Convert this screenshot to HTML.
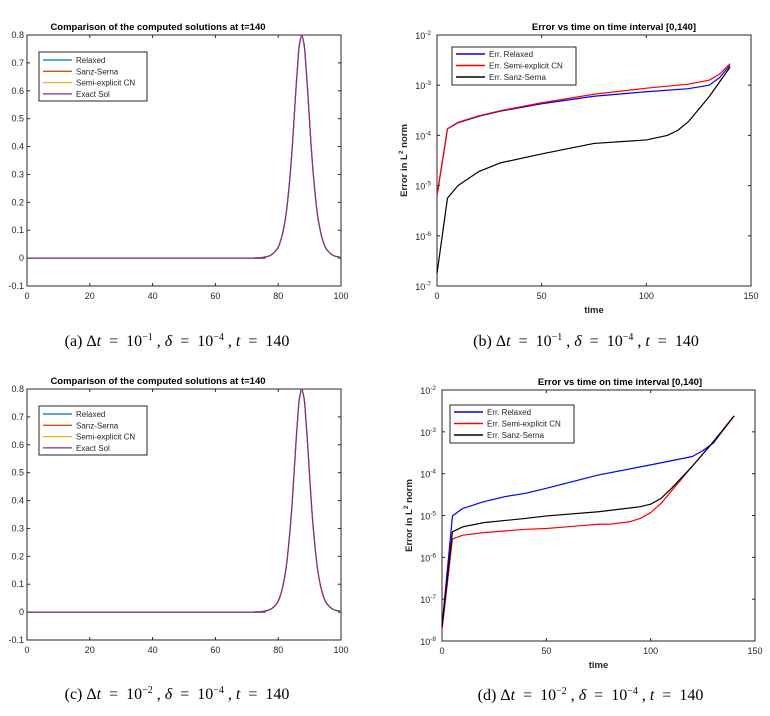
<!DOCTYPE html>
<html><head><meta charset="utf-8">
<style>
html,body{margin:0;padding:0;background:#fff;width:770px;height:716px;overflow:hidden}
svg{display:block}
.cap{font-family:"Liberation Serif",serif;font-size:16px;fill:#000}
</style></head>
<body>
<svg id="fig" width="770" height="716" viewBox="0 0 770 716" xmlns="http://www.w3.org/2000/svg"></svg>
<script>
// ---- data: solution profile (panels a, c) ----
const solX = [0, 70, 72.5, 75, 77.5, 79.5, 80.5, 81.5, 82.5, 83.5, 84.5, 85.5, 86.5, 87, 87.5, 88, 88.5, 89.5, 90.5, 91.5, 92.5, 93.5, 94.5, 95.5, 97.5, 100];
const solY = [0, 0, 0.0006, 0.0024, 0.0097, 0.030, 0.053, 0.093, 0.157, 0.26, 0.40, 0.58, 0.74, 0.78, 0.80, 0.78, 0.74, 0.58, 0.40, 0.26, 0.157, 0.093, 0.053, 0.030, 0.0097, 0.0024];
const solXTicks = [0, 20, 40, 60, 80, 100];
const solYTicks = [-0.1, 0, 0.1, 0.2, 0.3, 0.4, 0.5, 0.6, 0.7, 0.8];
// ---- data: panel b error (log10 values) ----
const errBX = [0, 5, 10, 20, 30, 50, 75, 100, 120, 130, 135, 140];
const errBRelaxed = [-5.2, -3.87, -3.75, -3.62, -3.52, -3.37, -3.22, -3.13, -3.07, -3.0, -2.85, -2.6];
const errBSemi = [-5.2, -3.87, -3.74, -3.61, -3.51, -3.35, -3.18, -3.06, -2.98, -2.9, -2.78, -2.57];
const errBSanzX = [0, 5, 10, 20, 30, 50, 75, 100, 110, 115, 120, 130, 140];
const errBSanz = [-6.75, -5.25, -5.0, -4.72, -4.55, -4.37, -4.16, -4.09, -4.0, -3.9, -3.73, -3.23, -2.64];
// ---- data: panel d error (log10 values) ----
const errDX = [0, 5, 10, 20, 30, 40, 50, 75, 100, 120, 125, 130, 140];
const errDRelaxed = [-7.66, -5.01, -4.83, -4.67, -4.55, -4.47, -4.35, -4.03, -3.79, -3.59, -3.45, -3.27, -2.62];
const errDSanzX = [0, 5, 10, 20, 40, 50, 75, 95, 100, 105, 110, 120, 130, 140];
const errDSanz = [-7.66, -5.39, -5.27, -5.17, -5.07, -5.01, -4.91, -4.79, -4.73, -4.59, -4.35, -3.82, -3.24, -2.62];
const errDSemiX = [0, 5, 10, 20, 40, 50, 65, 75, 80, 90, 95, 100, 105, 110, 120, 130, 140];
const errDSemi = [-7.74, -5.56, -5.47, -5.41, -5.33, -5.31, -5.25, -5.21, -5.21, -5.15, -5.07, -4.93, -4.71, -4.41, -3.82, -3.24, -2.62];
const errXTicks = [0, 50, 100, 150];

const NS = "http://www.w3.org/2000/svg";
const fig = document.getElementById('fig');
function mk(tag, attrs, parent, name) {
  const e = document.createElementNS(NS, tag);
  for (const k in attrs) e.setAttribute(k, attrs[k]);
  
  
  (parent || fig).appendChild(e);
  return e;
}
function smoothPath(pts) {
  let d = `M${pts[0][0]},${pts[0][1]}`;
  for (let i = 0; i < pts.length - 1; i++) {
    const p0 = pts[Math.max(0, i - 1)], p1 = pts[i], p2 = pts[i + 1], p3 = pts[Math.min(pts.length - 1, i + 2)];
    const c1x = p1[0] + (p2[0] - p0[0]) / 6, c1y = p1[1] + (p2[1] - p0[1]) / 6;
    const c2x = p2[0] - (p3[0] - p1[0]) / 6, c2y = p2[1] - (p3[1] - p1[1]) / 6;
    d += ` C${c1x},${c1y} ${c2x},${c2y} ${p2[0]},${p2[1]}`;
  }
  return d;
}
function linePath(pts) {
  return pts.map((p, i) => (i ? 'L' : 'M') + p[0] + ',' + p[1]).join(' ');
}
function frame(g, L, R, T, B) {
  mk('rect', {x: L, y: T, width: R - L, height: B - T, fill: 'none', stroke: '#262626', 'stroke-width': 1}, g, 'axes-box');
}
function text(g, x, y, s, opts, name) {
  const t = mk('text', Object.assign({x: x, y: y, 'font-family': '"Liberation Sans",sans-serif', 'font-size': 9, fill: '#262626'}, opts || {}), g, name);
  t.textContent = s;
  return t;
}

function solPanel(id, T, legendColors, capText, capY) {
  const g = mk('g', {}, fig, 'panel-' + id);
  const L = 27, R = 341, B = T + 251;
  const sx = v => L + (v - 0) / 100 * (R - L);
  const sy = v => B - (v + 0.1) / 0.9 * (B - T);
  frame(g, L, R, T, B);
  solXTicks.forEach(v => {
    mk('line', {x1: sx(v), x2: sx(v), y1: B, y2: B - 3, stroke: '#262626'}, g, 'x-tick');
    mk('line', {x1: sx(v), x2: sx(v), y1: T, y2: T + 3, stroke: '#262626'}, g, 'x-tick');
    text(g, sx(v), B + 13, String(v), {'text-anchor': 'middle'}, 'x-tick-label');
  });
  solYTicks.forEach(v => {
    mk('line', {x1: L, x2: L + 3, y1: sy(v), y2: sy(v), stroke: '#262626'}, g, 'y-tick');
    mk('line', {x1: R, x2: R - 3, y1: sy(v), y2: sy(v), stroke: '#262626'}, g, 'y-tick');
    text(g, L - 3, sy(v) + 3, String(v), {'text-anchor': 'end'}, 'y-tick-label');
  });
  text(g, 158, T - 5, 'Comparison of the computed solutions at t=140', {'text-anchor': 'middle', 'font-weight': 'bold', 'font-size': 9.5, fill: '#000'}, 'chart-title');
  const pts = solX.map((x, i) => [sx(x), sy(solY[i])]);
  const names = ['relaxed', 'sanz-serna', 'semi-explicit-cn', 'exact-sol'];
  legendColors.forEach((c, i) => {
    mk('path', {d: smoothPath(pts), fill: 'none', stroke: c, 'stroke-width': 1.2}, g, 'line-' + names[i]);
  });
  const lg = mk('g', {}, g, 'legend');
  mk('rect', {x: 39, y: T + 17, width: 108, height: 49, fill: '#fff', stroke: '#262626'}, lg, 'legend-box');
  const labels = ['Relaxed', 'Sanz-Serna', 'Semi-explicit CN', 'Exact Sol'];
  labels.forEach((s, i) => {
    const y = T + 25 + i * 11.3;
    mk('line', {x1: 43, x2: 72, y1: y, y2: y, stroke: legendColors[i], 'stroke-width': 1.3}, lg, 'legend-line-' + names[i]);
    text(lg, 76, y + 3, s, {'font-size': 8}, 'legend-entry-' + names[i]);
  });
  const cp = mk('text', {x: 177, y: capY, 'text-anchor': 'middle', class: 'cap'}, g, 'caption-' + id);
  cp.innerHTML = capText;
}

function errPanel(id, L, R, T, minDec, series, legend, capText, capY, titleX) {
  const g = mk('g', {}, fig, 'panel-' + id);
  const B = T + 251;
  const sx = v => L + v / 150 * (R - L);
  const sy = v => T + (-2 - v) / (-2 - minDec) * (B - T);
  frame(g, L, R, T, B);
  errXTicks.forEach(v => {
    mk('line', {x1: sx(v), x2: sx(v), y1: B, y2: B - 3, stroke: '#262626'}, g, 'x-tick');
    mk('line', {x1: sx(v), x2: sx(v), y1: T, y2: T + 3, stroke: '#262626'}, g, 'x-tick');
    text(g, sx(v), B + 13, String(v), {'text-anchor': 'middle'}, 'x-tick-label');
  });
  for (let d = minDec; d <= -2; d++) {
    mk('line', {x1: L, x2: L + 3, y1: sy(d), y2: sy(d), stroke: '#262626'}, g, 'y-tick');
    mk('line', {x1: R, x2: R - 3, y1: sy(d), y2: sy(d), stroke: '#262626'}, g, 'y-tick');
    const t = text(g, L - 6, sy(d) + 4, '10', {'text-anchor': 'end'}, 'y-tick-label');
    const sp = document.createElementNS(NS, 'tspan');
    sp.setAttribute('dy', '-4'); sp.setAttribute('font-size', '6.5');
    sp.textContent = String(d);
    t.appendChild(sp);
  }
  text(g, titleX, T - 5, 'Error vs time on time interval [0,140]', {'text-anchor': 'middle', 'font-weight': 'bold', 'font-size': 9.5, fill: '#000'}, 'chart-title');
  text(g, (L + R) / 2, B + 27, 'time', {'text-anchor': 'middle', 'font-weight': 'bold', 'font-size': 9.5}, 'x-axis-title');
  const yl = text(g, 0, 0, 'Error in L', {'text-anchor': 'middle', 'font-weight': 'bold', 'font-size': 9.5, transform: `translate(${L - 30},${(T + B) / 2}) rotate(-90)`}, 'y-axis-title');
  yl.innerHTML = 'Error in L<tspan dy="-4" font-size="6.5">2</tspan><tspan dy="4"> norm</tspan>';
  series.forEach(s => {
    const pts = s.x.map((x, i) => [sx(x), sy(s.y[i])]);
    mk('path', {d: linePath(pts), fill: 'none', stroke: s.c, 'stroke-width': 1.2, 'stroke-linejoin': 'round'}, g, 'line-' + s.n);
  });
  const lg = mk('g', {}, g, 'legend');
  mk('rect', {x: legend.x, y: legend.y, width: 124, height: 38, fill: '#fff', stroke: '#262626'}, lg, 'legend-box');
  legend.items.forEach((it, i) => {
    const y = legend.y + 7 + i * 11.5;
    mk('line', {x1: legend.x + 4, x2: legend.x + 33, y1: y, y2: y, stroke: it.c, 'stroke-width': 1.5}, lg, 'legend-line');
    text(lg, legend.x + 37, y + 3, it.t, {'font-size': 8}, 'legend-entry');
  });
  const cp = mk('text', {x: (L + R) / 2 - 8, y: capY, 'text-anchor': 'middle', class: 'cap'}, g, 'caption-' + id);
  cp.innerHTML = capText;
}

const capA = '(a) Δ<tspan font-style="italic">t</tspan>&#160; = &#160;10<tspan dy="-6" font-size="10">−1</tspan><tspan dy="6"> , </tspan><tspan font-style="italic">δ</tspan>&#160; = &#160;10<tspan dy="-6" font-size="10">−4</tspan><tspan dy="6"> , </tspan><tspan font-style="italic">t</tspan>&#160; = &#160;140';
const capB = capA.replace('(a)', '(b)');
const capC = capA.replace('(a)', '(c)').replace('−1', '−2');
const capD = capA.replace('(a)', '(d)').replace('−1', '−2');

solPanel('a', 35, ['#0072BD', '#D95319', '#EDB120', '#7E2F8E'], capA, 346);
solPanel('c', 389, ['#0072BD', '#D95319', '#EDB120', '#7E2F8E'], capC, 699);

errPanel('b', 437, 751, 35, -7, [
  {x: errBSanzX, y: errBSanz, c: '#000', n: 'sanz-serna'},
  {x: errBX, y: errBRelaxed, c: '#0000ff', n: 'relaxed'},
  {x: errBX, y: errBSemi, c: '#ff0000', n: 'semi-explicit-cn'}
], {x: 452, y: 47, items: [{t: 'Err. Relaxed', c: '#0000ff'}, {t: 'Err. Semi-explicit CN', c: '#ff0000'}, {t: 'Err. Sanz-Serna', c: '#000'}]}, capB, 346, 614);

errPanel('d', 442, 755, 390, -8, [
  {x: errDX, y: errDRelaxed, c: '#0000ff', n: 'relaxed'},
  {x: errDSemiX, y: errDSemi, c: '#ff0000', n: 'semi-explicit-cn'},
  {x: errDSanzX, y: errDSanz, c: '#000', n: 'sanz-serna'}
], {x: 450, y: 405, items: [{t: 'Err. Relaxed', c: '#0000ff'}, {t: 'Err. Semi-explicit CN', c: '#ff0000'}, {t: 'Err. Sanz-Serna', c: '#000'}]}, capD, 700, 620);
</script>
</body></html>
